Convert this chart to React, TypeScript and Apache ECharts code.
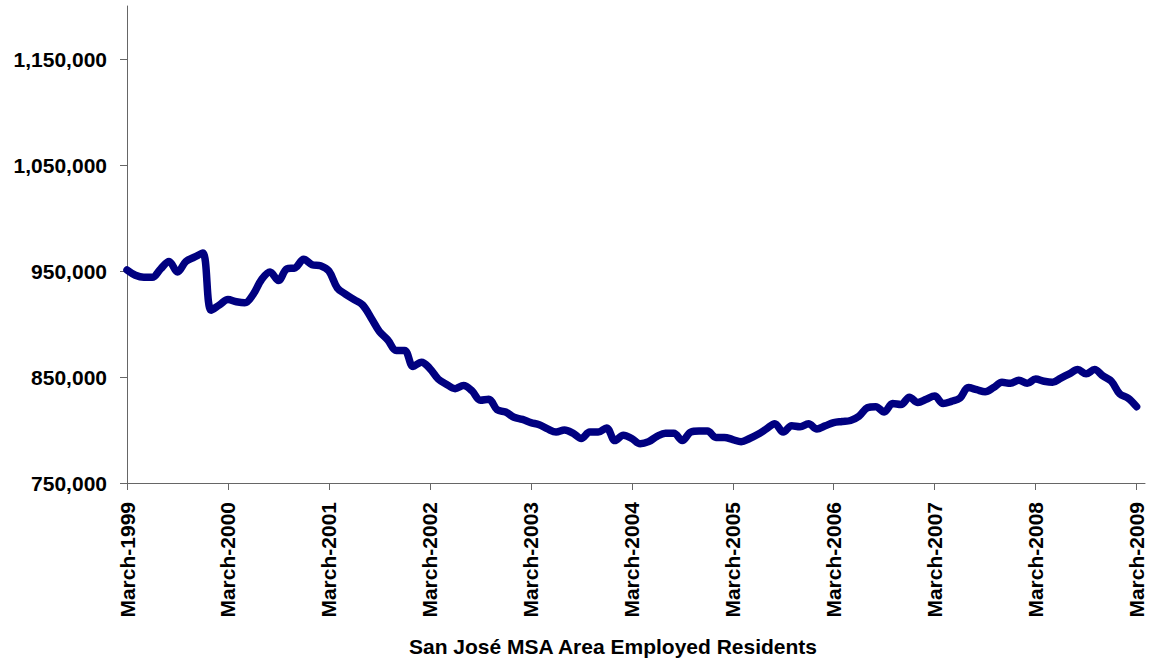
import React, { useEffect, useRef } from "react";
import * as echarts from "echarts";

const START_YEAR = 1999;
const TITLE = "San José MSA Area Employed Residents";
const Y_TICKS = [750000, 850000, 950000, 1050000, 1150000];
const X_TICKS = [0, 12, 24, 36, 48, 60, 72, 84, 96, 108, 120];
// Monthly employed residents, March 1999 .. March 2009
const EMPLOYED = [
  951000, 946000, 944000, 944000, 952000, 959000, 949000, 959000, 963000, 967000,
  913000, 918000, 923000, 921000, 920000, 928000, 942000, 949000, 941000, 952000,
  953000, 961000, 956000, 955000, 950000, 934000, 928000, 923000, 918000, 906000,
  893000, 885000, 875000, 875000, 860000, 864000, 858000, 848000, 843000, 839000,
  842000, 837000, 828000, 829000, 819000, 817000, 812000, 810000, 807000, 805000,
  801000, 798000, 800000, 797000, 792000, 798000, 798000, 802000, 790000, 795000,
  792000, 787000, 789000, 794000, 797000, 797000, 790000, 798000, 799000, 799000,
  793000, 793000, 791000, 789000, 792000, 796000, 801000, 806000, 798000, 804000,
  803000, 806000, 801000, 804000, 807000, 808000, 809000, 813000, 821000, 822000,
  817000, 825000, 824000, 831000, 826000, 829000, 832000, 825000, 827000, 830000,
  840000, 838000, 836000, 840000, 845000, 844000, 847000, 844000, 848000, 846000,
  845000, 849000, 853000, 857000, 853000, 857000, 851000, 846000, 834000, 830000,
  822000,
];

export default function App() {
  const ref = useRef<HTMLDivElement>(null);
  useEffect(() => {
    if (!ref.current) return;
    const chart = echarts.init(ref.current, undefined, { renderer: "svg" });
    const axisColor = "#666666";
    const font = "Liberation Sans, Arial, sans-serif";
    chart.setOption({
      animation: false,
      backgroundColor: "#ffffff",
      grid: { left: 127, right: 8, top: 6, bottom: 181, containLabel: false },
      title: {
        text: TITLE,
        left: 608,
        textAlign: "center",
        bottom: 2,
        textStyle: { fontFamily: font, fontWeight: "bold", fontSize: 21, color: "#000" },
      },
      xAxis: {
        type: "value",
        min: 0,
        max: 121,
        splitLine: { show: false },
        axisLine: { show: true, onZero: false, lineStyle: { color: axisColor, width: 1 } },
        axisTick: { show: true, length: 7, customValues: X_TICKS, lineStyle: { color: axisColor } },
        axisLabel: {
          customValues: X_TICKS,
          rotate: 90,
          margin: 19,
          fontFamily: font,
          fontWeight: "bold",
          fontSize: 21,
          color: "#000",
          formatter: (v: number) => "March-" + (START_YEAR + Math.round(v / 12)),
        },
      },
      yAxis: {
        type: "value",
        min: 750000,
        max: 1200000,
        splitLine: { show: false },
        axisLine: { show: true, lineStyle: { color: axisColor, width: 1 } },
        axisTick: { show: true, length: 7, customValues: Y_TICKS, lineStyle: { color: axisColor } },
        axisLabel: {
          customValues: Y_TICKS,
          margin: 20,
          fontFamily: font,
          fontWeight: "bold",
          fontSize: 21,
          color: "#000",
          formatter: (v: number) => v.toLocaleString("en-US"),
        },
      },
      series: [
        {
          type: "line",
          data: EMPLOYED.map((v, i) => [i, v]),
          showSymbol: false,
          smooth: 0.35,
          lineStyle: { color: "#000080", width: 7.5, cap: "round", join: "round" },
        },
      ],
    });
    return () => chart.dispose();
  }, []);
  return (
    <div
      ref={ref}
      style={{ position: "absolute", left: 0, top: 0, width: 1153, height: 664 }}
    />
  );
}
